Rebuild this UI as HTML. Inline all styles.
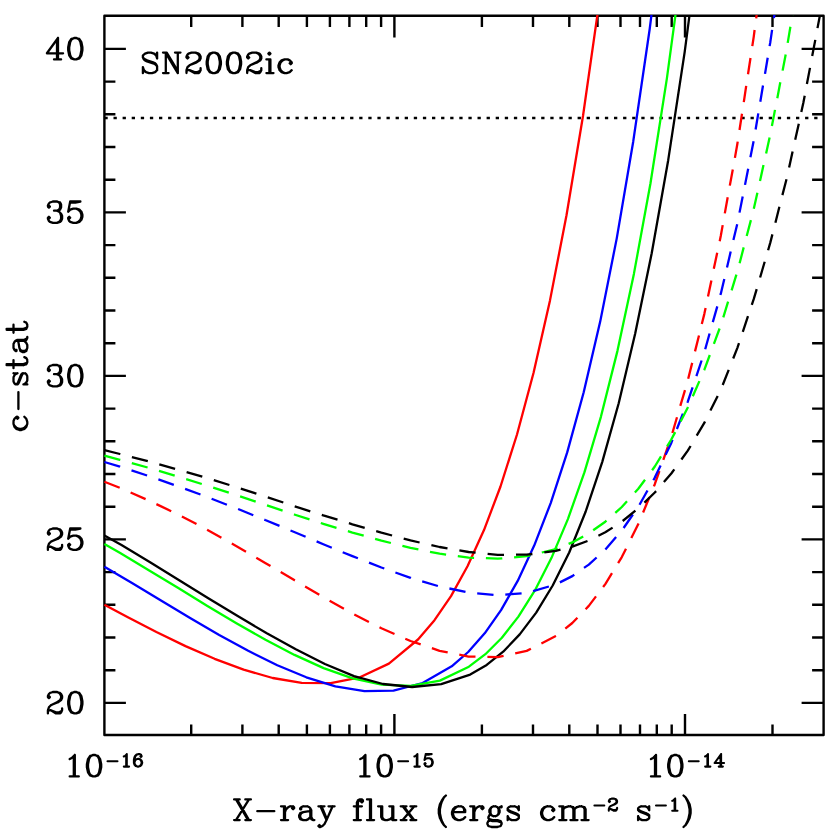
<!DOCTYPE html>
<html><head><meta charset="utf-8"><title>SN2002ic c-stat vs X-ray flux</title>
<style>
html,body{margin:0;padding:0;background:#fff}
body{width:830px;height:835px;overflow:hidden;font-family:"Liberation Serif",serif}
svg{display:block}
text{font-family:"Liberation Serif",serif;fill:#000}
</style></head><body>
<svg width="830" height="835" viewBox="0 0 830 835" role="img" aria-labelledby="t d">
<title id="t">SN2002ic: c-stat versus X-ray flux</title>
<desc id="d">c-stat (19 to 41) as a function of X-ray flux (ergs cm-2 s-1, 10^-16 to 3x10^-14, log scale). Four solid and four dashed curves in black, red, green and blue; dotted horizontal line at c-stat 37.9. Label: SN2002ic.</desc>
<rect width="830" height="835" fill="#fff"/>
<defs><clipPath id="c"><rect x="103.8" y="15.1" width="720.4" height="720.5"/></clipPath></defs>
<g fill="none" stroke="#000" stroke-width="2.4">
<path d="M104.4 702.9 h21.5 M823.6 702.9 h-22.0 M104.4 670.2 h11.0 M823.6 670.2 h-11.5 M104.4 637.5 h11.0 M823.6 637.5 h-11.5 M104.4 604.8 h11.0 M823.6 604.8 h-11.5 M104.4 572.1 h11.0 M823.6 572.1 h-11.5 M104.4 539.4 h21.5 M823.6 539.4 h-22.0 M104.4 506.7 h11.0 M823.6 506.7 h-11.5 M104.4 474.0 h11.0 M823.6 474.0 h-11.5 M104.4 441.3 h11.0 M823.6 441.3 h-11.5 M104.4 408.6 h11.0 M823.6 408.6 h-11.5 M104.4 375.9 h21.5 M823.6 375.9 h-22.0 M104.4 343.2 h11.0 M823.6 343.2 h-11.5 M104.4 310.5 h11.0 M823.6 310.5 h-11.5 M104.4 277.8 h11.0 M823.6 277.8 h-11.5 M104.4 245.1 h11.0 M823.6 245.1 h-11.5 M104.4 212.4 h21.5 M823.6 212.4 h-22.0 M104.4 179.7 h11.0 M823.6 179.7 h-11.5 M104.4 147.0 h11.0 M823.6 147.0 h-11.5 M104.4 114.3 h11.0 M823.6 114.3 h-11.5 M104.4 81.6 h11.0 M823.6 81.6 h-11.5 M104.4 48.9 h21.5 M823.6 48.9 h-22.0 M191.2 735.0 v-10.5 M191.2 15.7 v11.2 M242.4 735.0 v-10.5 M242.4 15.7 v11.2 M278.7 735.0 v-10.5 M278.7 15.7 v11.2 M306.9 735.0 v-10.5 M306.9 15.7 v11.2 M329.9 735.0 v-10.5 M329.9 15.7 v11.2 M349.4 735.0 v-10.5 M349.4 15.7 v11.2 M366.2 735.0 v-10.5 M366.2 15.7 v11.2 M381.1 735.0 v-10.5 M381.1 15.7 v11.2 M394.4 735.0 v-21.0 M394.4 15.7 v21.7 M481.9 735.0 v-10.5 M481.9 15.7 v11.2 M533.0 735.0 v-10.5 M533.0 15.7 v11.2 M569.3 735.0 v-10.5 M569.3 15.7 v11.2 M597.5 735.0 v-10.5 M597.5 15.7 v11.2 M620.5 735.0 v-10.5 M620.5 15.7 v11.2 M640.0 735.0 v-10.5 M640.0 15.7 v11.2 M656.8 735.0 v-10.5 M656.8 15.7 v11.2 M671.7 735.0 v-10.5 M671.7 15.7 v11.2 M685.0 735.0 v-21.0 M685.0 15.7 v21.7 M772.5 735.0 v-10.5 M772.5 15.7 v11.2"/>
<path d="M104.4 118.0 H823.6" stroke-dasharray="3.3 5.8"/>
</g>
<rect x="104.4" y="15.7" width="719.2" height="719.3" fill="none" stroke="#000" stroke-width="2.4" stroke-linejoin="round"/>
<g fill="none" stroke-width="2.3" stroke-linejoin="round" clip-path="url(#c)">
<path d="M104.4 604.8 L127.4 617.1 L156.4 632.0 L185.5 646.1 L214.6 658.8 L243.6 669.7 L272.7 678.0 L301.7 682.8 L330.8 683.1 L359.9 677.3 L388.9 663.6 L418.0 639.5 L434.5 620.2 L451.0 596.1 L467.5 566.3 L484.0 530.1 L500.5 486.5 L517.0 434.5 L533.5 373.0 L550.0 300.4 L566.5 215.3 L583.0 116.0 L599.5 0.2 L616.0 -134.1" stroke="#ff0000"/>
<path d="M104.4 566.7 L132.0 583.1 L161.0 600.6 L190.1 618.0 L219.2 634.9 L248.2 650.8 L277.3 665.2 L306.3 677.3 L335.4 686.3 L364.5 691.2 L393.5 690.6 L422.6 683.0 L451.7 666.3 L468.2 652.0 L484.7 633.3 L501.2 609.9 L517.7 580.9 L534.2 545.6 L550.7 503.1 L567.2 452.4 L583.7 392.3 L600.2 321.6 L616.7 238.6 L633.2 141.7 L649.7 29.0 L666.2 -101.8" stroke="#0000ff"/>
<path d="M104.4 543.9 L120.2 553.1 L149.2 570.4 L178.3 588.1 L207.4 605.9 L236.4 623.2 L265.5 639.8 L294.5 654.9 L323.6 668.1 L352.7 678.3 L381.7 684.7 L410.8 685.9 L439.9 680.6 L468.9 666.7 L485.4 654.2 L501.9 637.7 L518.4 616.6 L534.9 590.4 L551.4 558.1 L567.9 519.1 L584.4 472.4 L600.9 416.8 L617.4 351.1 L633.9 273.9 L650.4 183.7 L666.9 78.4 L683.4 -43.8" stroke="#00ff00"/>
<path d="M104.4 535.4 L121.5 545.0 L150.5 562.4 L179.6 580.6 L208.7 598.6 L237.7 616.1 L266.8 633.3 L295.8 649.3 L324.9 664.0 L354.0 676.1 L383.0 684.0 L412.1 687.0 L441.2 684.2 L470.2 674.6 L486.7 664.9 L503.2 651.7 L519.7 634.4 L536.2 612.6 L552.7 585.5 L569.2 552.5 L585.7 511.5 L602.2 462.1 L618.7 403.2 L635.2 333.6 L651.7 253.3 L668.2 160.2 L684.7 51.8 L701.2 -73.9" stroke="#000000"/>
<path d="M104.4 481.7L119.7 487.7M130.6 492.5L145.6 499.1M156.4 504.1L171.2 511.2M181.9 516.5L196.5 524.1M207.1 529.7L221.4 537.7M231.8 543.5L236.1 545.9L246.0 551.7M256.3 557.7L265.2 562.9L270.5 566.0M280.7 572.1L294.2 580.1L294.9 580.5M305.1 586.5L319.3 594.8M329.6 600.7L343.9 608.7M354.3 614.4L368.9 621.9M379.5 627.3L381.4 628.3L394.5 634.0M405.3 638.7L410.5 641.0L420.7 644.4M431.9 648.2L439.6 650.8L447.7 652.4M459.3 654.7L468.6 656.6L475.5 656.7M487.4 656.9L497.7 657.1L503.6 655.9M515.2 653.4L526.7 650.9L530.9 648.8M541.4 643.5L555.8 636.1L556.0 636.0M565.3 628.6L572.3 623.0L577.4 617.7M585.6 609.2L588.8 605.9L596.0 596.4M603.1 587.0L605.3 584.1L612.0 573.2M618.1 563.1L621.8 557.1L626.0 548.7M631.3 538.1L638.3 524.0L638.6 523.4M643.1 512.5L649.4 497.3M653.9 486.4L654.8 484.2L659.4 471.0M663.3 459.8L668.7 444.3M672.4 433.0L677.0 417.3M680.3 405.9L685.0 390.2M688.2 378.8L692.2 362.9M695.0 351.4L699.0 335.5M701.8 324.0L704.3 314.1L705.6 308.0M708.0 296.5L711.4 280.4M713.8 268.8L717.2 252.8M719.7 241.2L720.8 235.8L722.7 225.1M724.8 213.4L727.7 197.3M729.8 185.6L732.8 169.5M734.9 157.9L737.3 144.3L737.7 141.7M739.5 130.0L742.0 113.8M743.8 102.1L746.2 85.9M748.0 74.2L750.5 58.0M752.3 46.2L753.8 36.3L754.6 30.0M756.2 18.3L758.3 2.0M759.9 -9.7L762.0 -26.0M763.6 -37.7L765.7 -54.0M767.3 -65.7L769.4 -82.0" stroke="#ff0000"/>
<path d="M104.4 462.0L119.9 466.7L120.1 466.8M131.5 470.4L147.1 475.5M158.4 479.4L173.8 484.8M185.1 488.8L200.5 494.5M211.6 498.7L226.9 504.7M238.1 509.0L253.3 515.2M264.3 519.6L265.2 520.0L279.5 525.9M290.5 530.5L294.2 532.0L305.6 536.8M316.6 541.4L323.3 544.2L331.8 547.7M342.7 552.2L352.4 556.1L357.9 558.3M369.0 562.6L381.4 567.5L384.3 568.5M395.4 572.5L410.5 577.8L410.9 578.0M422.2 581.3L437.9 586.0M449.4 588.5L465.5 591.9M477.2 593.3L493.5 594.8M505.3 594.6L521.6 593.3M533.1 591.1L548.9 586.5M559.9 582.4L572.3 576.1L574.3 574.7M584.0 567.9L588.8 564.6L596.6 557.5M605.4 549.5L616.1 537.1M623.6 528.0L632.9 514.5M639.5 504.7L647.5 490.5M653.4 480.2L654.8 477.6L660.6 465.5M665.6 454.8L671.3 442.9L672.5 439.9M676.9 429.0L682.9 413.7M687.3 402.8L687.8 401.6L692.6 387.3M696.4 376.1L701.6 360.5M705.2 349.3L709.6 333.5M712.8 322.1L717.3 306.4M720.4 295.0L720.8 293.7L724.3 279.0M727.0 267.6L730.7 251.6M733.4 240.1L737.2 224.2M739.5 212.6L742.7 196.5M745.0 184.9L748.2 168.8M750.4 157.3L753.6 141.2M755.6 129.5L758.3 113.4M760.3 101.7L763.0 85.5M765.0 73.9L767.7 57.7M769.6 46.1L770.3 42.2L772.1 29.9M773.9 18.2L776.3 2.0M778.0 -9.7L780.4 -25.9M782.1 -37.6L784.5 -53.8M786.3 -65.5L786.8 -69.1" stroke="#0000ff"/>
<path d="M104.4 455.7L119.9 459.8L120.3 459.9M131.8 463.1L147.6 467.5M159.0 470.9L174.7 475.6M186.2 479.1L201.8 484.0M213.2 487.6L228.8 492.7M240.1 496.4L255.7 501.6M267.0 505.4L282.6 510.6M293.9 514.4L294.2 514.5L309.5 519.4M320.8 523.0L323.3 523.8L336.5 527.8M347.9 531.2L352.4 532.6L363.7 535.7M375.1 538.9L381.4 540.7L390.9 543.0M402.4 545.8L410.5 547.8L418.4 549.4M430.0 551.8L439.6 553.7L446.1 554.6M457.8 556.1L468.6 557.6L474.1 557.8M485.9 558.2L497.7 558.7L502.3 558.3M514.1 557.3L526.7 556.2L530.3 555.4M541.8 552.5L555.8 549.1L557.6 548.3M568.6 543.9L572.3 542.4L583.2 536.4M593.2 530.3L605.3 521.7L606.5 520.7M615.3 512.8L621.8 507.0L627.0 501.3M634.9 492.5L638.3 488.8L645.0 479.7M652.1 470.2L654.8 466.5L661.0 456.4M667.1 446.4L671.3 439.5L675.2 432.1M680.6 421.6L687.8 407.5L688.0 407.0M692.8 396.2L699.4 381.1M704.1 370.3L704.3 369.9L709.8 355.0M713.9 343.9L719.6 328.5M723.3 317.3L728.1 301.6M731.6 290.3L736.4 274.6M739.6 263.3L743.7 247.4M746.7 236.0L750.9 220.1M753.8 208.7L757.4 192.7M760.0 181.1L763.5 165.1M766.1 153.6L769.6 137.6M771.9 126.0L775.0 109.9M777.3 98.3L780.3 82.2M782.6 70.6L785.7 54.5M787.7 42.9L790.4 26.7M792.4 15.0L795.1 -1.1M797.0 -12.8L799.7 -29.0M801.7 -40.6L803.3 -50.5" stroke="#00ff00"/>
<path d="M104.4 450.2L119.9 454.0L120.3 454.1M131.9 457.1L147.8 461.2M159.3 464.4L175.1 468.8M186.6 472.1L202.3 476.7M213.8 480.1L229.4 485.0M240.8 488.6L256.4 493.7M267.8 497.4L283.3 502.5M294.7 506.3L310.3 511.3M321.8 514.9L323.3 515.4L337.5 519.7M348.9 523.2L352.4 524.3L364.7 527.8M376.2 531.2L381.4 532.7L392.1 535.5M403.7 538.6L410.5 540.4L419.6 542.5M431.4 545.1L439.6 547.0L447.5 548.3M459.4 550.4L468.6 552.0L475.6 552.6M487.6 553.8L497.7 554.8L504.0 554.8M516.0 554.7L526.7 554.7L532.4 554.0M544.3 552.4L555.8 550.9L560.5 549.7M572.1 546.6L572.3 546.6L587.5 541.0M598.4 535.7L605.3 532.3L612.6 527.6M622.7 521.0L635.4 510.7M644.4 502.6L654.8 492.5L656.1 491.1M663.9 482.0L671.3 473.5L674.3 469.3M681.4 459.5L687.8 450.6L690.6 446.0M696.7 435.6L704.3 422.9L705.0 421.4M710.4 410.6L717.7 396.0M722.7 385.0L728.7 369.8M733.2 358.5L737.3 348.1L739.0 343.2M742.8 331.8L748.0 316.2M751.8 304.8L753.8 298.9L756.7 289.1M760.1 277.5L764.7 261.8M768.1 250.2L770.3 242.6L772.4 234.4M775.4 222.7L779.4 206.8M782.4 195.1L786.5 179.3M789.1 167.5L792.6 151.5M795.2 139.7L798.8 123.7M801.3 111.9L803.3 103.0L804.7 95.8M806.9 84.0L810.0 67.9M812.2 56.0L815.3 39.9M817.5 28.1L819.8 16.0L820.5 11.9M822.4 0.0L825.1 -16.1M827.0 -28.0L829.7 -44.2M831.7 -56.1L834.3 -72.3M836.3 -84.2L836.3 -84.5" stroke="#000000"/>
</g>
<g fill="none" stroke="#000" stroke-width="2.3" stroke-linecap="round" stroke-linejoin="round" aria-label="text labels">
<path d="M58.0 38.0L46.9 53.3M58.0 38.0L58.0 59.4M57.0 40.0L57.0 59.4M46.9 53.3L63.1 53.3M54.0 59.4L61.1 59.4M74.3 38.0L76.3 38.0M74.3 38.0L71.2 39.0M74.3 38.0L72.2 39.0M76.3 38.0L78.3 39.0M76.3 38.0L79.4 39.0M71.2 39.0L69.2 42.1M72.2 39.0L71.2 40.0M78.3 39.0L79.4 40.0M79.4 39.0L81.4 42.1M71.2 40.0L70.2 42.1M79.4 40.0L80.4 42.1M69.2 42.1L68.2 47.2M70.2 42.1L69.2 47.2M80.4 42.1L81.4 47.2M81.4 42.1L82.4 47.2M68.2 47.2L68.2 50.2M69.2 47.2L69.2 50.2M81.4 47.2L81.4 50.2M82.4 47.2L82.4 50.2M68.2 50.2L69.2 55.3M69.2 50.2L70.2 55.3M81.4 50.2L80.4 55.3M82.4 50.2L81.4 55.3M69.2 55.3L71.2 58.4M70.2 55.3L71.2 57.4M80.4 55.3L79.4 57.4M81.4 55.3L79.4 58.4M71.2 57.4L72.2 58.4M79.4 57.4L78.3 58.4M71.2 58.4L74.3 59.4M72.2 58.4L74.3 59.4M78.3 58.4L76.3 59.4M79.4 58.4L76.3 59.4M74.3 59.4L76.3 59.4"/>
<path d="M53.0 201.5L57.0 201.5M53.0 201.5L49.9 202.5M57.0 201.5L59.1 202.5M57.0 201.5L60.1 202.5M49.9 202.5L48.9 203.5M59.1 202.5L60.1 204.5M60.1 202.5L61.1 204.5M48.9 203.5L47.9 205.6M60.1 204.5L60.1 207.6M61.1 204.5L61.1 207.6M47.9 205.6L47.9 206.6M48.9 205.6L49.9 206.6M47.9 206.6L48.9 207.6M49.9 206.6L48.9 207.6M60.1 207.6L59.1 209.6M61.1 207.6L60.1 209.6M59.1 209.6L57.0 210.7M60.1 209.6L57.0 210.7M54.0 210.7L57.0 210.7M57.0 210.7L59.1 211.7M59.1 211.7L61.1 213.7M60.1 212.7L61.1 215.8M61.1 213.7L62.1 215.8M61.1 215.8L61.1 218.8M62.1 215.8L62.1 218.8M48.9 216.8L47.9 217.8M48.9 216.8L49.9 217.8M47.9 217.8L47.9 218.8M49.9 217.8L48.9 218.8M47.9 218.8L48.9 220.9M61.1 218.8L60.1 220.9M62.1 218.8L61.1 220.9M48.9 220.9L49.9 221.9M60.1 220.9L59.1 221.9M61.1 220.9L60.1 221.9M49.9 221.9L53.0 222.9M59.1 221.9L57.0 222.9M60.1 221.9L57.0 222.9M53.0 222.9L57.0 222.9M70.2 201.5L80.4 201.5M70.2 201.5L68.2 211.7M80.4 201.5L75.3 202.5M70.2 202.5L75.3 202.5M73.3 208.6L76.3 208.6M73.3 208.6L70.2 209.6M76.3 208.6L78.3 209.6M76.3 208.6L79.4 209.6M70.2 209.6L68.2 211.7M78.3 209.6L80.4 211.7M79.4 209.6L81.4 211.7M80.4 211.7L81.4 214.7M81.4 211.7L82.4 214.7M81.4 214.7L81.4 216.8M82.4 214.7L82.4 216.8M69.2 216.8L68.2 217.8M69.2 216.8L70.2 217.8M81.4 216.8L80.4 219.8M82.4 216.8L81.4 219.8M68.2 217.8L68.2 218.8M70.2 217.8L69.2 218.8M68.2 218.8L69.2 220.9M80.4 219.8L78.3 221.9M81.4 219.8L79.4 221.9M69.2 220.9L70.2 221.9M70.2 221.9L73.3 222.9M78.3 221.9L76.3 222.9M79.4 221.9L76.3 222.9M73.3 222.9L76.3 222.9"/>
<path d="M53.0 365.0L57.0 365.0M53.0 365.0L49.9 366.0M57.0 365.0L59.1 366.0M57.0 365.0L60.1 366.0M49.9 366.0L48.9 367.0M59.1 366.0L60.1 368.0M60.1 366.0L61.1 368.0M48.9 367.0L47.9 369.1M60.1 368.0L60.1 371.1M61.1 368.0L61.1 371.1M47.9 369.1L47.9 370.1M48.9 369.1L49.9 370.1M47.9 370.1L48.9 371.1M49.9 370.1L48.9 371.1M60.1 371.1L59.1 373.1M61.1 371.1L60.1 373.1M59.1 373.1L57.0 374.2M60.1 373.1L57.0 374.2M54.0 374.2L57.0 374.2M57.0 374.2L59.1 375.2M59.1 375.2L61.1 377.2M60.1 376.2L61.1 379.3M61.1 377.2L62.1 379.3M61.1 379.3L61.1 382.3M62.1 379.3L62.1 382.3M48.9 380.3L47.9 381.3M48.9 380.3L49.9 381.3M47.9 381.3L47.9 382.3M49.9 381.3L48.9 382.3M47.9 382.3L48.9 384.4M61.1 382.3L60.1 384.4M62.1 382.3L61.1 384.4M48.9 384.4L49.9 385.4M60.1 384.4L59.1 385.4M61.1 384.4L60.1 385.4M49.9 385.4L53.0 386.4M59.1 385.4L57.0 386.4M60.1 385.4L57.0 386.4M53.0 386.4L57.0 386.4M74.3 365.0L76.3 365.0M74.3 365.0L71.2 366.0M74.3 365.0L72.2 366.0M76.3 365.0L78.3 366.0M76.3 365.0L79.4 366.0M71.2 366.0L69.2 369.1M72.2 366.0L71.2 367.0M78.3 366.0L79.4 367.0M79.4 366.0L81.4 369.1M71.2 367.0L70.2 369.1M79.4 367.0L80.4 369.1M69.2 369.1L68.2 374.2M70.2 369.1L69.2 374.2M80.4 369.1L81.4 374.2M81.4 369.1L82.4 374.2M68.2 374.2L68.2 377.2M69.2 374.2L69.2 377.2M81.4 374.2L81.4 377.2M82.4 374.2L82.4 377.2M68.2 377.2L69.2 382.3M69.2 377.2L70.2 382.3M81.4 377.2L80.4 382.3M82.4 377.2L81.4 382.3M69.2 382.3L71.2 385.4M70.2 382.3L71.2 384.4M80.4 382.3L79.4 384.4M81.4 382.3L79.4 385.4M71.2 384.4L72.2 385.4M79.4 384.4L78.3 385.4M71.2 385.4L74.3 386.4M72.2 385.4L74.3 386.4M78.3 385.4L76.3 386.4M79.4 385.4L76.3 386.4M74.3 386.4L76.3 386.4"/>
<path d="M53.0 528.5L57.0 528.5M53.0 528.5L49.9 529.5M57.0 528.5L59.1 529.5M57.0 528.5L60.1 529.5M49.9 529.5L48.9 530.5M59.1 529.5L60.1 530.5M60.1 529.5L61.1 530.5M48.9 530.5L47.9 532.6M60.1 530.5L61.1 532.6M61.1 530.5L62.1 532.6M47.9 532.6L47.9 533.6M48.9 532.6L49.9 533.6M61.1 532.6L61.1 534.6M62.1 532.6L62.1 534.6M47.9 533.6L48.9 534.6M49.9 533.6L48.9 534.6M61.1 534.6L60.1 536.6M62.1 534.6L61.1 536.6M60.1 536.6L57.0 538.7M61.1 536.6L58.0 538.7M57.0 538.7L50.9 541.7M58.0 538.7L53.0 540.7M50.9 541.7L48.9 543.8M48.9 543.8L47.9 546.8M62.1 544.8L62.1 546.8M47.9 546.8L47.9 549.9M48.9 546.8L50.9 546.8M48.9 546.8L47.9 547.9M50.9 546.8L56.0 548.9M50.9 546.8L56.0 549.9M62.1 546.8L61.1 547.9M62.1 546.8L61.1 548.9M61.1 547.9L59.1 548.9M56.0 548.9L59.1 548.9M61.1 548.9L60.1 549.9M56.0 549.9L60.1 549.9M70.2 528.5L80.4 528.5M70.2 528.5L68.2 538.7M80.4 528.5L75.3 529.5M70.2 529.5L75.3 529.5M73.3 535.6L76.3 535.6M73.3 535.6L70.2 536.6M76.3 535.6L78.3 536.6M76.3 535.6L79.4 536.6M70.2 536.6L68.2 538.7M78.3 536.6L80.4 538.7M79.4 536.6L81.4 538.7M80.4 538.7L81.4 541.7M81.4 538.7L82.4 541.7M81.4 541.7L81.4 543.8M82.4 541.7L82.4 543.8M69.2 543.8L68.2 544.8M69.2 543.8L70.2 544.8M81.4 543.8L80.4 546.8M82.4 543.8L81.4 546.8M68.2 544.8L68.2 545.8M70.2 544.8L69.2 545.8M68.2 545.8L69.2 547.9M80.4 546.8L78.3 548.9M81.4 546.8L79.4 548.9M69.2 547.9L70.2 548.9M70.2 548.9L73.3 549.9M78.3 548.9L76.3 549.9M79.4 548.9L76.3 549.9M73.3 549.9L76.3 549.9"/>
<path d="M53.0 692.0L57.0 692.0M53.0 692.0L49.9 693.0M57.0 692.0L59.1 693.0M57.0 692.0L60.1 693.0M49.9 693.0L48.9 694.0M59.1 693.0L60.1 694.0M60.1 693.0L61.1 694.0M48.9 694.0L47.9 696.1M60.1 694.0L61.1 696.1M61.1 694.0L62.1 696.1M47.9 696.1L47.9 697.1M48.9 696.1L49.9 697.1M61.1 696.1L61.1 698.1M62.1 696.1L62.1 698.1M47.9 697.1L48.9 698.1M49.9 697.1L48.9 698.1M61.1 698.1L60.1 700.1M62.1 698.1L61.1 700.1M60.1 700.1L57.0 702.2M61.1 700.1L58.0 702.2M57.0 702.2L50.9 705.2M58.0 702.2L53.0 704.2M50.9 705.2L48.9 707.3M48.9 707.3L47.9 710.3M62.1 708.3L62.1 710.3M47.9 710.3L47.9 713.4M48.9 710.3L50.9 710.3M48.9 710.3L47.9 711.4M50.9 710.3L56.0 712.4M50.9 710.3L56.0 713.4M62.1 710.3L61.1 711.4M62.1 710.3L61.1 712.4M61.1 711.4L59.1 712.4M56.0 712.4L59.1 712.4M61.1 712.4L60.1 713.4M56.0 713.4L60.1 713.4M74.3 692.0L76.3 692.0M74.3 692.0L71.2 693.0M74.3 692.0L72.2 693.0M76.3 692.0L78.3 693.0M76.3 692.0L79.4 693.0M71.2 693.0L69.2 696.1M72.2 693.0L71.2 694.0M78.3 693.0L79.4 694.0M79.4 693.0L81.4 696.1M71.2 694.0L70.2 696.1M79.4 694.0L80.4 696.1M69.2 696.1L68.2 701.2M70.2 696.1L69.2 701.2M80.4 696.1L81.4 701.2M81.4 696.1L82.4 701.2M68.2 701.2L68.2 704.2M69.2 701.2L69.2 704.2M81.4 701.2L81.4 704.2M82.4 701.2L82.4 704.2M68.2 704.2L69.2 709.3M69.2 704.2L70.2 709.3M81.4 704.2L80.4 709.3M82.4 704.2L81.4 709.3M69.2 709.3L71.2 712.4M70.2 709.3L71.2 711.4M80.4 709.3L79.4 711.4M81.4 709.3L79.4 712.4M71.2 711.4L72.2 712.4M79.4 711.4L78.3 712.4M71.2 712.4L74.3 713.4M72.2 712.4L74.3 713.4M78.3 712.4L76.3 713.4M79.4 712.4L76.3 713.4M74.3 713.4L76.3 713.4"/>
<path d="M74.8 755.0L71.7 758.0M74.8 755.0L74.8 776.4M73.8 756.0L73.8 776.4M71.7 758.0L69.7 759.1M69.7 776.4L78.8 776.4M93.0 755.0L95.1 755.0M93.0 755.0L90.0 756.0M93.0 755.0L91.0 756.0M95.1 755.0L97.1 756.0M95.1 755.0L98.1 756.0M90.0 756.0L88.0 759.1M91.0 756.0L90.0 757.0M97.1 756.0L98.1 757.0M98.1 756.0L100.1 759.1M90.0 757.0L89.0 759.1M98.1 757.0L99.1 759.1M88.0 759.1L86.9 764.2M89.0 759.1L88.0 764.2M99.1 759.1L100.1 764.2M100.1 759.1L101.2 764.2M86.9 764.2L86.9 767.2M88.0 764.2L88.0 767.2M100.1 764.2L100.1 767.2M101.2 764.2L101.2 767.2M86.9 767.2L88.0 772.3M88.0 767.2L89.0 772.3M100.1 767.2L99.1 772.3M101.2 767.2L100.1 772.3M88.0 772.3L90.0 775.4M89.0 772.3L90.0 774.4M99.1 772.3L98.1 774.4M100.1 772.3L98.1 775.4M90.0 774.4L91.0 775.4M98.1 774.4L97.1 775.4M90.0 775.4L93.0 776.4M91.0 775.4L93.0 776.4M97.1 775.4L95.1 776.4M98.1 775.4L95.1 776.4M93.0 776.4L95.1 776.4"/>
<path d="M365.4 755.0L362.4 758.0M365.4 755.0L365.4 776.4M364.4 756.0L364.4 776.4M362.4 758.0L360.3 759.1M360.3 776.4L369.5 776.4M383.7 755.0L385.7 755.0M383.7 755.0L380.6 756.0M383.7 755.0L381.6 756.0M385.7 755.0L387.7 756.0M385.7 755.0L388.7 756.0M380.6 756.0L378.6 759.1M381.6 756.0L380.6 757.0M387.7 756.0L388.7 757.0M388.7 756.0L390.8 759.1M380.6 757.0L379.6 759.1M388.7 757.0L389.8 759.1M378.6 759.1L377.6 764.2M379.6 759.1L378.6 764.2M389.8 759.1L390.8 764.2M390.8 759.1L391.8 764.2M377.6 764.2L377.6 767.2M378.6 764.2L378.6 767.2M390.8 764.2L390.8 767.2M391.8 764.2L391.8 767.2M377.6 767.2L378.6 772.3M378.6 767.2L379.6 772.3M390.8 767.2L389.8 772.3M391.8 767.2L390.8 772.3M378.6 772.3L380.6 775.4M379.6 772.3L380.6 774.4M389.8 772.3L388.7 774.4M390.8 772.3L388.7 775.4M380.6 774.4L381.6 775.4M388.7 774.4L387.7 775.4M380.6 775.4L383.7 776.4M381.6 775.4L383.7 776.4M387.7 775.4L385.7 776.4M388.7 775.4L385.7 776.4M383.7 776.4L385.7 776.4"/>
<path d="M656.0 755.0L653.0 758.0M656.0 755.0L656.0 776.4M655.0 756.0L655.0 776.4M653.0 758.0L651.0 759.1M651.0 776.4L660.1 776.4M674.3 755.0L676.3 755.0M674.3 755.0L671.2 756.0M674.3 755.0L672.3 756.0M676.3 755.0L678.4 756.0M676.3 755.0L679.4 756.0M671.2 756.0L669.2 759.1M672.3 756.0L671.2 757.0M678.4 756.0L679.4 757.0M679.4 756.0L681.4 759.1M671.2 757.0L670.2 759.1M679.4 757.0L680.4 759.1M669.2 759.1L668.2 764.2M670.2 759.1L669.2 764.2M680.4 759.1L681.4 764.2M681.4 759.1L682.4 764.2M668.2 764.2L668.2 767.2M669.2 764.2L669.2 767.2M681.4 764.2L681.4 767.2M682.4 764.2L682.4 767.2M668.2 767.2L669.2 772.3M669.2 767.2L670.2 772.3M681.4 767.2L680.4 772.3M682.4 767.2L681.4 772.3M669.2 772.3L671.2 775.4M670.2 772.3L671.2 774.4M680.4 772.3L679.4 774.4M681.4 772.3L679.4 775.4M671.2 774.4L672.3 775.4M679.4 774.4L678.4 775.4M671.2 775.4L674.3 776.4M672.3 775.4L674.3 776.4M678.4 775.4L676.3 776.4M679.4 775.4L676.3 776.4M674.3 776.4L676.3 776.4"/>
<path d="M148.0 52.6L151.0 52.6M148.0 52.6L145.0 53.6M151.0 52.6L154.1 53.6M157.1 52.6L156.1 55.5M157.1 52.6L157.1 58.5M145.0 53.6L142.9 55.5M154.1 53.6L156.1 55.5M142.9 55.5L142.9 57.5M156.1 55.5L157.1 58.5M142.9 57.5L143.9 59.4M142.9 57.5L145.0 59.4M143.9 59.4L145.0 60.4M145.0 59.4L147.0 60.4M145.0 60.4L147.0 61.4M147.0 60.4L153.1 62.4M147.0 61.4L153.1 63.3M153.1 62.4L155.1 63.3M153.1 63.3L155.1 64.3M155.1 63.3L156.1 64.3M155.1 64.3L157.1 66.3M156.1 64.3L157.1 66.3M157.1 66.3L157.1 70.2M142.9 67.2L143.9 70.2M142.9 67.2L142.9 73.1M143.9 70.2L146.0 72.1M143.9 70.2L142.9 73.1M157.1 70.2L155.1 72.1M146.0 72.1L149.0 73.1M155.1 72.1L152.0 73.1M149.0 73.1L152.0 73.1M163.0 52.6L166.7 52.6M165.8 52.6L165.8 73.1M166.7 52.6L173.2 63.3M166.7 52.6L177.8 71.1M175.0 52.6L180.5 52.6M177.8 52.6L177.8 73.1M166.7 54.6L173.2 65.3M166.7 54.6L177.8 73.1M171.3 60.4L173.2 63.3M171.3 60.4L177.8 71.1M171.3 62.4L173.2 65.3M171.3 62.4L177.8 73.1M173.2 63.3L177.8 71.1M173.2 65.3L177.8 73.1M163.0 73.1L168.6 73.1M191.5 52.6L195.6 52.6M191.5 52.6L188.5 53.6M195.6 52.6L197.6 53.6M195.6 52.6L198.6 53.6M188.5 53.6L187.5 54.6M197.6 53.6L198.6 54.6M198.6 53.6L199.6 54.6M187.5 54.6L186.5 56.5M198.6 54.6L199.6 56.5M199.6 54.6L200.6 56.5M186.5 56.5L186.5 57.5M187.5 56.5L188.5 57.5M199.6 56.5L199.6 58.5M200.6 56.5L200.6 58.5M186.5 57.5L187.5 58.5M188.5 57.5L187.5 58.5M199.6 58.5L198.6 60.4M200.6 58.5L199.6 60.4M198.6 60.4L195.6 62.4M199.6 60.4L196.6 62.4M195.6 62.4L189.5 65.3M196.6 62.4L191.5 64.3M189.5 65.3L187.5 67.2M187.5 67.2L186.5 70.2M200.6 68.2L200.6 70.2M186.5 70.2L186.5 73.1M187.5 70.2L189.5 70.2M187.5 70.2L186.5 71.1M189.5 70.2L194.5 72.1M189.5 70.2L194.5 73.1M200.6 70.2L199.6 71.1M200.6 70.2L199.6 72.1M199.6 71.1L197.6 72.1M194.5 72.1L197.6 72.1M199.6 72.1L198.6 73.1M194.5 73.1L198.6 73.1M212.8 52.6L214.8 52.6M212.8 52.6L209.7 53.6M212.8 52.6L210.7 53.6M214.8 52.6L216.8 53.6M214.8 52.6L217.8 53.6M209.7 53.6L207.7 56.5M210.7 53.6L209.7 54.6M216.8 53.6L217.8 54.6M217.8 53.6L219.8 56.5M209.7 54.6L208.7 56.5M217.8 54.6L218.8 56.5M207.7 56.5L206.7 61.4M208.7 56.5L207.7 61.4M218.8 56.5L219.8 61.4M219.8 56.5L220.9 61.4M206.7 61.4L206.7 64.3M207.7 61.4L207.7 64.3M219.8 61.4L219.8 64.3M220.9 61.4L220.9 64.3M206.7 64.3L207.7 69.2M207.7 64.3L208.7 69.2M219.8 64.3L218.8 69.2M220.9 64.3L219.8 69.2M207.7 69.2L209.7 72.1M208.7 69.2L209.7 71.1M218.8 69.2L217.8 71.1M219.8 69.2L217.8 72.1M209.7 71.1L210.7 72.1M217.8 71.1L216.8 72.1M209.7 72.1L212.8 73.1M210.7 72.1L212.8 73.1M216.8 72.1L214.8 73.1M217.8 72.1L214.8 73.1M212.8 73.1L214.8 73.1M233.0 52.6L235.0 52.6M233.0 52.6L230.0 53.6M233.0 52.6L231.0 53.6M235.0 52.6L237.1 53.6M235.0 52.6L238.1 53.6M230.0 53.6L227.9 56.5M231.0 53.6L230.0 54.6M237.1 53.6L238.1 54.6M238.1 53.6L240.1 56.5M230.0 54.6L229.0 56.5M238.1 54.6L239.1 56.5M227.9 56.5L226.9 61.4M229.0 56.5L227.9 61.4M239.1 56.5L240.1 61.4M240.1 56.5L241.1 61.4M226.9 61.4L226.9 64.3M227.9 61.4L227.9 64.3M240.1 61.4L240.1 64.3M241.1 61.4L241.1 64.3M226.9 64.3L227.9 69.2M227.9 64.3L229.0 69.2M240.1 64.3L239.1 69.2M241.1 64.3L240.1 69.2M227.9 69.2L230.0 72.1M229.0 69.2L230.0 71.1M239.1 69.2L238.1 71.1M240.1 69.2L238.1 72.1M230.0 71.1L231.0 72.1M238.1 71.1L237.1 72.1M230.0 72.1L233.0 73.1M231.0 72.1L233.0 73.1M237.1 72.1L235.0 73.1M238.1 72.1L235.0 73.1M233.0 73.1L235.0 73.1M252.2 52.6L256.3 52.6M252.2 52.6L249.2 53.6M256.3 52.6L258.3 53.6M256.3 52.6L259.3 53.6M249.2 53.6L248.2 54.6M258.3 53.6L259.3 54.6M259.3 53.6L260.3 54.6M248.2 54.6L247.2 56.5M259.3 54.6L260.3 56.5M260.3 54.6L261.3 56.5M247.2 56.5L247.2 57.5M248.2 56.5L249.2 57.5M260.3 56.5L260.3 58.5M261.3 56.5L261.3 58.5M247.2 57.5L248.2 58.5M249.2 57.5L248.2 58.5M260.3 58.5L259.3 60.4M261.3 58.5L260.3 60.4M259.3 60.4L256.3 62.4M260.3 60.4L257.3 62.4M256.3 62.4L250.2 65.3M257.3 62.4L252.2 64.3M250.2 65.3L248.2 67.2M248.2 67.2L247.2 70.2M261.3 68.2L261.3 70.2M247.2 70.2L247.2 73.1M248.2 70.2L250.2 70.2M248.2 70.2L247.2 71.1M250.2 70.2L255.3 72.1M250.2 70.2L255.3 73.1M261.3 70.2L260.3 71.1M261.3 70.2L260.3 72.1M260.3 71.1L258.3 72.1M255.3 72.1L258.3 72.1M260.3 72.1L259.3 73.1M255.3 73.1L259.3 73.1M269.4 52.6L268.4 53.6M269.4 52.6L270.4 53.6M268.4 53.6L269.4 54.6M270.4 53.6L269.4 54.6M266.4 59.4L270.4 59.4M269.4 59.4L269.4 73.1M270.4 59.4L270.4 73.1M266.4 73.1L273.5 73.1M284.6 59.4L287.7 59.4M284.6 59.4L281.6 60.4M284.6 59.4L282.6 60.4M287.7 59.4L289.7 60.4M281.6 60.4L279.6 62.4M282.6 60.4L280.6 62.4M289.7 60.4L291.7 62.4M279.6 62.4L278.5 65.3M280.6 62.4L279.6 65.3M290.7 62.4L289.7 63.3M291.7 62.4L291.7 63.3M289.7 63.3L290.7 64.3M291.7 63.3L290.7 64.3M278.5 65.3L278.5 67.2M279.6 65.3L279.6 67.2M278.5 67.2L279.6 70.2M279.6 67.2L280.6 70.2M279.6 70.2L281.6 72.1M280.6 70.2L282.6 72.1M291.7 70.2L289.7 72.1M281.6 72.1L284.6 73.1M282.6 72.1L284.6 73.1M289.7 72.1L286.6 73.1M284.6 73.1L286.6 73.1"/>
<path d="M234.1 799.4L239.7 799.4M236.0 799.4L240.7 807.3M236.0 799.4L243.5 812.2M236.0 799.4L248.1 820.1M236.9 799.4L241.6 807.3M236.9 799.4L244.4 812.2M236.9 799.4L249.0 820.1M245.3 799.4L250.9 799.4M249.0 799.4L236.0 820.1M240.7 807.3L243.5 812.2M240.7 807.3L248.1 820.1M241.6 807.3L244.4 812.2M241.6 807.3L249.0 820.1M243.5 812.2L248.1 820.1M244.4 812.2L249.0 820.1M234.1 820.1L239.7 820.1M245.3 820.1L250.9 820.1M257.3 811.2L274.3 811.2M281.0 806.3L285.0 806.3M284.0 806.3L284.0 820.1M285.0 806.3L285.0 820.1M290.1 806.3L293.1 806.3M290.1 806.3L288.1 807.3M293.1 806.3L294.1 807.3M288.1 807.3L286.0 809.3M293.1 807.3L292.1 808.3M294.1 807.3L294.1 808.3M292.1 808.3L293.1 809.3M294.1 808.3L293.1 809.3M286.0 809.3L285.0 812.2M281.0 820.1L288.1 820.1M303.2 806.3L307.3 806.3M303.2 806.3L301.2 807.3M307.3 806.3L309.3 807.3M301.2 807.3L300.2 808.3M309.3 807.3L310.3 808.3M300.2 808.3L300.2 809.3M301.2 808.3L301.2 809.3M310.3 808.3L311.3 810.2M310.3 808.3L310.3 817.1M300.2 809.3L301.2 809.3M310.3 810.2L309.3 811.2M311.3 810.2L311.3 817.1M309.3 811.2L303.2 812.2M303.2 812.2L300.2 813.2M303.2 812.2L301.2 813.2M300.2 813.2L299.2 815.2M301.2 813.2L300.2 815.2M299.2 815.2L299.2 817.1M300.2 815.2L300.2 817.1M299.2 817.1L300.2 819.1M300.2 817.1L301.2 819.1M310.3 817.1L308.3 819.1M310.3 817.1L311.3 819.1M311.3 817.1L312.3 819.1M300.2 819.1L303.2 820.1M301.2 819.1L303.2 820.1M308.3 819.1L306.3 820.1M311.3 819.1L313.4 820.1M312.3 819.1L313.4 820.1M303.2 820.1L306.3 820.1M313.4 820.1L314.4 820.1M318.4 806.3L324.5 806.3M320.4 806.3L326.5 820.1M321.5 806.3L326.5 818.1M328.5 806.3L334.6 806.3M332.6 806.3L326.5 820.1M326.5 820.1L324.5 824.0M324.5 824.0L322.5 826.0M319.4 825.0L318.4 826.0M319.4 825.0L320.4 826.0M318.4 826.0L319.4 827.0M322.5 826.0L320.4 827.0M319.4 827.0L320.4 827.0M359.9 799.4L361.9 799.4M359.9 799.4L357.9 800.4M359.9 799.4L358.9 800.4M361.9 799.4L362.9 800.4M357.9 800.4L356.9 802.4M358.9 800.4L357.9 802.4M361.9 800.4L360.9 801.4M362.9 800.4L362.9 801.4M360.9 801.4L361.9 802.4M362.9 801.4L361.9 802.4M356.9 802.4L356.9 820.1M357.9 802.4L357.9 820.1M353.8 806.3L361.9 806.3M353.8 820.1L360.9 820.1M367.0 799.4L371.0 799.4M370.0 799.4L370.0 820.1M371.0 799.4L371.0 820.1M367.0 820.1L374.1 820.1M378.1 806.3L382.2 806.3M381.2 806.3L381.2 817.1M382.2 806.3L382.2 817.1M389.3 806.3L393.3 806.3M392.3 806.3L392.3 820.1M393.3 806.3L393.3 820.1M381.2 817.1L382.2 819.1M382.2 817.1L383.2 819.1M392.3 817.1L390.3 819.1M382.2 819.1L385.2 820.1M383.2 819.1L385.2 820.1M390.3 819.1L387.2 820.1M385.2 820.1L387.2 820.1M392.3 820.1L396.3 820.1M400.7 806.3L406.5 806.3M402.7 806.3L413.3 820.1M403.6 806.3L414.3 820.1M410.4 806.3L416.3 806.3M414.3 806.3L402.7 820.1M400.7 820.1L406.5 820.1M410.4 820.1L416.3 820.1M445.9 795.5L443.9 797.4M443.9 797.4L441.9 800.4M443.9 797.4L441.9 801.4M441.9 800.4L439.9 804.3M441.9 801.4L440.9 804.3M439.9 804.3L438.8 809.3M440.9 804.3L439.9 809.3M438.8 809.3L438.8 813.2M439.9 809.3L439.9 813.2M438.8 813.2L439.9 818.1M439.9 813.2L440.9 818.1M439.9 818.1L441.9 822.1M440.9 818.1L441.9 821.1M441.9 821.1L443.9 825.0M441.9 822.1L443.9 825.0M443.9 825.0L445.9 827.0M458.1 806.3L461.1 806.3M458.1 806.3L455.0 807.3M458.1 806.3L456.1 807.3M461.1 806.3L463.1 807.3M455.0 807.3L453.0 809.3M456.1 807.3L454.0 809.3M463.1 807.3L464.1 808.3M463.1 807.3L464.1 809.3M464.1 808.3L465.2 810.2M453.0 809.3L452.0 812.2M454.0 809.3L453.0 812.2M464.1 809.3L464.1 812.2M465.2 810.2L465.2 812.2M452.0 812.2L452.0 814.2M453.0 812.2L465.2 812.2M453.0 812.2L453.0 814.2M452.0 814.2L453.0 817.1M453.0 814.2L454.0 817.1M453.0 817.1L455.0 819.1M454.0 817.1L456.1 819.1M465.2 817.1L463.1 819.1M455.0 819.1L458.1 820.1M456.1 819.1L458.1 820.1M463.1 819.1L460.1 820.1M458.1 820.1L460.1 820.1M470.2 806.3L474.3 806.3M473.3 806.3L473.3 820.1M474.3 806.3L474.3 820.1M479.3 806.3L482.4 806.3M479.3 806.3L477.3 807.3M482.4 806.3L483.4 807.3M477.3 807.3L475.3 809.3M482.4 807.3L481.4 808.3M483.4 807.3L483.4 808.3M481.4 808.3L482.4 809.3M483.4 808.3L482.4 809.3M475.3 809.3L474.3 812.2M470.2 820.1L477.3 820.1M493.5 806.3L495.5 806.3M493.5 806.3L491.5 807.3M495.5 806.3L497.5 807.3M501.6 806.3L499.6 807.3M501.6 806.3L501.6 807.3M491.5 807.3L490.5 808.3M491.5 807.3L490.5 809.3M497.5 807.3L498.6 808.3M497.5 807.3L498.6 809.3M499.6 807.3L501.6 807.3M499.6 807.3L498.6 808.3M490.5 808.3L489.4 810.2M498.6 808.3L499.6 810.2M490.5 809.3L490.5 813.2M498.6 809.3L498.6 813.2M489.4 810.2L489.4 812.2M499.6 810.2L499.6 812.2M489.4 812.2L490.5 814.2M499.6 812.2L498.6 814.2M490.5 813.2L491.5 815.2M498.6 813.2L497.5 815.2M490.5 814.2L489.4 815.2M490.5 814.2L491.5 815.2M498.6 814.2L497.5 815.2M489.4 815.2L488.4 817.1M491.5 815.2L493.5 816.2M497.5 815.2L495.5 816.2M493.5 816.2L495.5 816.2M488.4 817.1L488.4 818.1M488.4 818.1L489.4 819.1M488.4 818.1L489.4 820.1M489.4 819.1L492.5 820.1M489.4 820.1L492.5 821.1M491.5 820.1L488.4 821.1M492.5 820.1L497.5 820.1M497.5 820.1L500.6 821.1M488.4 821.1L487.4 823.1M492.5 821.1L497.5 821.1M497.5 821.1L500.6 822.1M500.6 821.1L501.6 823.1M500.6 822.1L501.6 823.1M487.4 823.1L487.4 824.0M501.6 823.1L501.6 824.0M487.4 824.0L488.4 826.0M501.6 824.0L500.6 826.0M488.4 826.0L491.5 827.0M500.6 826.0L497.5 827.0M491.5 827.0L497.5 827.0M510.7 806.3L514.7 806.3M510.7 806.3L508.7 807.3M514.7 806.3L516.8 807.3M518.8 806.3L517.8 808.3M518.8 806.3L518.8 810.2M508.7 807.3L507.7 808.3M516.8 807.3L517.8 808.3M507.7 808.3L507.7 810.2M517.8 808.3L518.8 810.2M507.7 809.3L508.7 810.2M507.7 810.2L508.7 811.2M508.7 810.2L510.7 811.2M508.7 811.2L510.7 812.2M510.7 811.2L515.8 813.2M510.7 812.2L515.8 814.2M515.8 813.2L517.8 814.2M515.8 814.2L517.8 815.2M517.8 814.2L518.8 815.2M517.8 815.2L518.8 816.2M518.8 815.2L518.8 818.1M507.7 816.2L508.7 818.1M507.7 816.2L507.7 820.1M508.7 818.1L509.7 819.1M508.7 818.1L507.7 820.1M518.8 818.1L517.8 819.1M509.7 819.1L511.7 820.1M517.8 819.1L515.8 820.1M511.7 820.1L515.8 820.1M547.1 806.3L550.2 806.3M547.1 806.3L544.1 807.3M547.1 806.3L545.1 807.3M550.2 806.3L552.2 807.3M544.1 807.3L542.1 809.3M545.1 807.3L543.1 809.3M552.2 807.3L554.2 809.3M542.1 809.3L541.1 812.2M543.1 809.3L542.1 812.2M553.2 809.3L552.2 810.2M554.2 809.3L554.2 810.2M552.2 810.2L553.2 811.2M554.2 810.2L553.2 811.2M541.1 812.2L541.1 814.2M542.1 812.2L542.1 814.2M541.1 814.2L542.1 817.1M542.1 814.2L543.1 817.1M542.1 817.1L544.1 819.1M543.1 817.1L545.1 819.1M554.2 817.1L552.2 819.1M544.1 819.1L547.1 820.1M545.1 819.1L547.1 820.1M552.2 819.1L549.2 820.1M547.1 820.1L549.2 820.1M559.3 806.3L563.3 806.3M562.3 806.3L562.3 820.1M563.3 806.3L563.3 820.1M568.4 806.3L570.4 806.3M568.4 806.3L565.3 807.3M570.4 806.3L572.4 807.3M570.4 806.3L573.4 807.3M579.5 806.3L581.5 806.3M579.5 806.3L576.5 807.3M581.5 806.3L583.6 807.3M581.5 806.3L584.6 807.3M565.3 807.3L563.3 809.3M572.4 807.3L573.4 809.3M573.4 807.3L574.5 809.3M576.5 807.3L574.5 809.3M583.6 807.3L584.6 809.3M584.6 807.3L585.6 809.3M573.4 809.3L573.4 820.1M574.5 809.3L574.5 820.1M584.6 809.3L584.6 820.1M585.6 809.3L585.6 820.1M559.3 820.1L566.4 820.1M570.4 820.1L577.5 820.1M581.5 820.1L588.6 820.1"/>
<path d="M641.1 806.3L645.2 806.3M641.1 806.3L639.1 807.3M645.2 806.3L647.2 807.3M649.2 806.3L648.2 808.3M649.2 806.3L649.2 810.2M639.1 807.3L638.1 808.3M647.2 807.3L648.2 808.3M638.1 808.3L638.1 810.2M648.2 808.3L649.2 810.2M638.1 809.3L639.1 810.2M638.1 810.2L639.1 811.2M639.1 810.2L641.1 811.2M639.1 811.2L641.1 812.2M641.1 811.2L646.2 813.2M641.1 812.2L646.2 814.2M646.2 813.2L648.2 814.2M646.2 814.2L648.2 815.2M648.2 814.2L649.2 815.2M648.2 815.2L649.2 816.2M649.2 815.2L649.2 818.1M638.1 816.2L639.1 818.1M638.1 816.2L638.1 820.1M639.1 818.1L640.1 819.1M639.1 818.1L638.1 820.1M649.2 818.1L648.2 819.1M640.1 819.1L642.2 820.1M648.2 819.1L646.2 820.1M642.2 820.1L646.2 820.1"/>
<path d="M683.5 795.5L685.6 797.4M685.6 797.4L687.6 800.4M685.6 797.4L687.6 801.4M687.6 800.4L689.6 804.3M687.6 801.4L688.6 804.3M688.6 804.3L689.6 809.3M689.6 804.3L690.6 809.3M689.6 809.3L689.6 813.2M690.6 809.3L690.6 813.2M689.6 813.2L688.6 818.1M690.6 813.2L689.6 818.1M688.6 818.1L687.6 821.1M689.6 818.1L687.6 822.1M687.6 821.1L685.6 825.0M687.6 822.1L685.6 825.0M685.6 825.0L683.5 827.0"/>
<path d="M13.5 423.9L13.5 420.9M13.5 423.9L14.5 426.9M13.5 423.9L14.5 425.9M13.5 420.9L14.5 418.8M14.5 426.9L16.5 429.0M14.5 425.9L16.5 427.9M14.5 418.8L16.5 416.8M16.5 429.0L19.4 430.0M16.5 427.9L19.4 429.0M16.5 417.8L17.5 418.8M16.5 416.8L17.5 416.8M17.5 418.8L18.4 417.8M17.5 416.8L18.4 417.8M19.4 430.0L21.4 430.0M19.4 429.0L21.4 429.0M21.4 430.0L24.3 429.0M21.4 429.0L24.3 427.9M24.3 429.0L26.3 426.9M24.3 427.9L26.3 425.9M24.3 416.8L26.3 418.8M26.3 426.9L27.3 423.9M26.3 425.9L27.3 423.9M26.3 418.8L27.3 421.9M27.3 423.9L27.3 421.9M18.4 409.1L18.4 392.1M13.5 381.4L13.5 377.3M13.5 381.4L14.5 383.4M13.5 377.3L14.5 375.3M13.5 373.3L15.5 374.3M13.5 373.3L17.5 373.3M14.5 383.4L15.5 384.4M14.5 375.3L15.5 374.3M15.5 384.4L17.5 384.4M15.5 374.3L17.5 373.3M16.5 384.4L17.5 383.4M17.5 384.4L18.4 383.4M17.5 383.4L18.4 381.4M18.4 383.4L19.4 381.4M18.4 381.4L20.4 376.3M19.4 381.4L21.4 376.3M20.4 376.3L21.4 374.3M21.4 376.3L22.4 374.3M21.4 374.3L22.4 373.3M22.4 374.3L23.4 373.3M22.4 373.3L25.3 373.3M23.4 384.4L25.3 383.4M23.4 384.4L27.3 384.4M25.3 383.4L26.3 382.4M25.3 383.4L27.3 384.4M25.3 373.3L26.3 374.3M26.3 382.4L27.3 380.4M26.3 374.3L27.3 376.3M27.3 380.4L27.3 376.3M6.6 365.2L23.4 365.2M6.6 364.2L23.4 364.2M13.5 368.2L13.5 360.1M23.4 365.2L26.3 364.2M23.4 364.2L26.3 363.2M24.3 357.1L26.3 358.1M26.3 364.2L27.3 362.2M26.3 363.2L27.3 362.2M26.3 358.1L27.3 360.1M27.3 362.2L27.3 360.1M13.5 348.0L13.5 343.9M13.5 348.0L14.5 350.0M13.5 343.9L14.5 341.9M14.5 350.0L15.5 351.0M14.5 341.9L15.5 340.9M15.5 351.0L16.5 351.0M15.5 350.0L16.5 350.0M15.5 340.9L17.5 339.9M15.5 340.9L24.3 340.9M16.5 351.0L16.5 350.0M17.5 340.9L18.4 341.9M17.5 339.9L24.3 339.9M18.4 341.9L19.4 348.0M19.4 348.0L20.4 351.0M19.4 348.0L20.4 350.0M20.4 351.0L22.4 352.0M20.4 350.0L22.4 351.0M22.4 352.0L24.3 352.0M22.4 351.0L24.3 351.0M24.3 352.0L26.3 351.0M24.3 351.0L26.3 350.0M24.3 340.9L26.3 342.9M24.3 340.9L26.3 339.9M24.3 339.9L26.3 338.9M26.3 351.0L27.3 348.0M26.3 350.0L27.3 348.0M26.3 342.9L27.3 345.0M26.3 339.9L27.3 337.9M26.3 338.9L27.3 337.9M27.3 348.0L27.3 345.0M27.3 337.9L27.3 336.9M6.6 329.8L23.4 329.8M6.6 328.8L23.4 328.8M13.5 332.8L13.5 324.7M23.4 329.8L26.3 328.8M23.4 328.8L26.3 327.8M24.3 321.7L26.3 322.7M26.3 328.8L27.3 326.7M26.3 327.8L27.3 326.7M26.3 322.7L27.3 324.7M27.3 326.7L27.3 324.7"/>
<g stroke-width="2.05"><path d="M107.5 761.2L117.5 761.2M126.8 754.1L125.0 755.9M126.8 754.1L126.8 766.6M126.2 754.7L126.2 766.6M125.0 755.9L123.8 756.5M123.8 766.6L129.1 766.6M138.1 754.1L139.8 754.1M138.1 754.1L136.3 754.7M138.1 754.1L136.9 754.7M139.8 754.1L141.0 754.7M136.3 754.7L135.1 755.9M136.9 754.7L135.7 755.9M141.0 754.7L141.6 755.9M135.1 755.9L134.5 757.1M135.7 755.9L135.1 757.1M141.0 755.9L140.4 756.5M141.6 755.9L141.6 756.5M140.4 756.5L141.0 757.1M141.6 756.5L141.0 757.1M134.5 757.1L133.9 759.4M135.1 757.1L134.5 759.4M138.1 758.8L138.6 758.8M138.1 758.8L136.3 759.4M138.6 758.8L139.8 759.4M138.6 758.8L140.4 759.4M133.9 759.4L133.9 763.0M134.5 759.4L134.5 763.0M136.3 759.4L135.1 760.6M139.8 759.4L141.0 760.6M140.4 759.4L141.6 760.6M135.1 760.6L134.5 762.4M141.0 760.6L141.6 762.4M141.6 760.6L142.2 762.4M141.6 762.4L141.6 763.0M142.2 762.4L142.2 763.0M133.9 763.0L134.5 764.8M134.5 763.0L135.1 764.8M141.6 763.0L141.0 764.8M142.2 763.0L141.6 764.8M134.5 764.8L135.7 766.0M135.1 764.8L136.3 766.0M141.0 764.8L139.8 766.0M141.6 764.8L140.4 766.0M135.7 766.0L137.5 766.6M136.3 766.0L137.5 766.6M139.8 766.0L138.6 766.6M140.4 766.0L138.6 766.6M137.5 766.6L138.6 766.6"/>
<path d="M398.2 761.2L408.1 761.2M417.4 754.1L415.6 755.9M417.4 754.1L417.4 766.6M416.8 754.7L416.8 766.6M415.6 755.9L414.4 756.5M414.4 766.6L419.8 766.6M425.7 754.1L431.7 754.1M425.7 754.1L424.5 760.0M431.7 754.1L428.7 754.7M425.7 754.7L428.7 754.7M427.5 758.2L429.3 758.2M427.5 758.2L425.7 758.8M429.3 758.2L430.5 758.8M429.3 758.2L431.1 758.8M425.7 758.8L424.5 760.0M430.5 758.8L431.7 760.0M431.1 758.8L432.2 760.0M431.7 760.0L432.2 761.8M432.2 760.0L432.8 761.8M432.2 761.8L432.2 763.0M432.8 761.8L432.8 763.0M425.1 763.0L424.5 763.6M425.1 763.0L425.7 763.6M432.2 763.0L431.7 764.8M432.8 763.0L432.2 764.8M424.5 763.6L424.5 764.2M425.7 763.6L425.1 764.2M424.5 764.2L425.1 765.4M431.7 764.8L430.5 766.0M432.2 764.8L431.1 766.0M425.1 765.4L425.7 766.0M425.7 766.0L427.5 766.6M430.5 766.0L429.3 766.6M431.1 766.0L429.3 766.6M427.5 766.6L429.3 766.6"/>
<path d="M688.8 761.2L698.7 761.2M708.0 754.1L706.2 755.9M708.0 754.1L708.0 766.6M707.4 754.7L707.4 766.6M706.2 755.9L705.1 756.5M705.1 766.6L710.4 766.6M721.1 754.1L714.6 763.0M721.1 754.1L721.1 766.6M720.5 755.3L720.5 766.6M714.6 763.0L724.1 763.0M718.7 766.6L722.9 766.6"/>
<path d="M594.4 805.5L604.3 805.5M611.8 798.6L614.1 798.6M611.8 798.6L610.0 799.2M614.1 798.6L615.3 799.2M614.1 798.6L615.9 799.2M610.0 799.2L609.4 799.8M615.3 799.2L615.9 799.8M615.9 799.2L616.5 799.8M609.4 799.8L608.8 800.9M615.9 799.8L616.5 800.9M616.5 799.8L617.1 800.9M608.8 800.9L608.8 801.5M609.4 800.9L610.0 801.5M616.5 800.9L616.5 802.1M617.1 800.9L617.1 802.1M608.8 801.5L609.4 802.1M610.0 801.5L609.4 802.1M616.5 802.1L615.9 803.2M617.1 802.1L616.5 803.2M615.9 803.2L614.1 804.4M616.5 803.2L614.7 804.4M614.1 804.4L610.6 806.1M614.7 804.4L611.8 805.5M610.6 806.1L609.4 807.2M609.4 807.2L608.8 809.0M617.1 807.8L617.1 809.0M608.8 809.0L608.8 810.7M609.4 809.0L610.6 809.0M609.4 809.0L608.8 809.5M610.6 809.0L613.6 810.1M610.6 809.0L613.6 810.7M617.1 809.0L616.5 809.5M617.1 809.0L616.5 810.1M616.5 809.5L615.3 810.1M613.6 810.1L615.3 810.1M616.5 810.1L615.9 810.7M613.6 810.7L615.9 810.7"/>
<path d="M656.0 805.5L665.9 805.5M675.2 798.6L673.4 800.3M675.2 798.6L675.2 810.7M674.6 799.2L674.6 810.7M673.4 800.3L672.2 800.9M672.2 810.7L677.5 810.7"/></g>
</g>
</svg>
</body></html>
